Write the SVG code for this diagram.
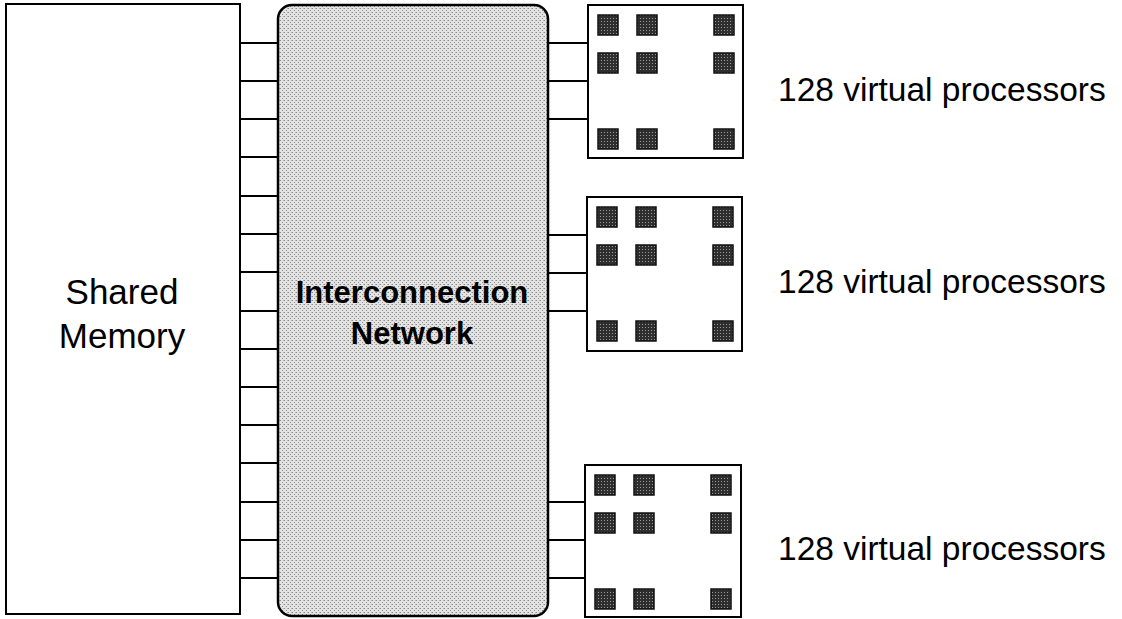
<svg xmlns="http://www.w3.org/2000/svg" width="1122" height="619" viewBox="0 0 1122 619">
<style>
.box{fill:#fff;stroke:#000;stroke-width:2}
.net{fill:url(#stipple);stroke:#000;stroke-width:2.5}
.link{stroke:#000;stroke-width:2;fill:none}
.chip{fill:url(#chipfill);stroke:#111;stroke-width:1.5}
.lbl{font-family:"Liberation Sans",Arial,sans-serif;fill:#000}
.bold{font-weight:bold}
</style>
<defs>
<pattern id="stipple" width="4" height="4" patternUnits="userSpaceOnUse">
<rect width="4" height="4" fill="#e4e4e4"/>
<rect x="0" y="0" width="1" height="1" fill="#8a8a8a"/>
<rect x="2" y="2" width="1" height="1" fill="#8a8a8a"/>
<rect x="3" y="0" width="1" height="1" fill="#b4b4b4"/>
</pattern>
<pattern id="chipfill" width="3" height="3" patternUnits="userSpaceOnUse">
<rect width="3" height="3" fill="#2e2e2e"/>
<rect x="1" y="1" width="1" height="1" fill="#9a9a9a"/>
</pattern>
<g id="chips">
<rect class="chip" x="10" y="10" width="20" height="20"/>
<rect class="chip" x="49" y="10" width="20" height="20"/>
<rect class="chip" x="126" y="10" width="20" height="20"/>
<rect class="chip" x="10" y="48" width="20" height="20"/>
<rect class="chip" x="49" y="48" width="20" height="20"/>
<rect class="chip" x="126" y="48" width="20" height="20"/>
<rect class="chip" x="10" y="124" width="20" height="20"/>
<rect class="chip" x="49" y="124" width="20" height="20"/>
<rect class="chip" x="126" y="124" width="20" height="20"/>
</g>
</defs>

<g id="connectors">
<path class="link" d="M240 43H278M240 81H278M240 119H278M240 157H278M240 196H278M240 234H278M240 272H278M240 311H278M240 349H278M240 387H278M240 425H278M240 463H278M240 502H278M240 540H278M240 578H278"/>
<path class="link" d="M548 43H588M548 81H588M548 119H588"/>
<path class="link" d="M548 235H587M548 273H587M548 311H587"/>
<path class="link" d="M548 502H585M548 540H585M548 578H585"/>
</g>

<g id="shared-memory">
<rect class="box" x="6" y="4" width="234" height="610"/>
<text class="lbl" x="122" y="304" font-size="35" text-anchor="middle">Shared</text>
<text class="lbl" x="122" y="348" font-size="35" text-anchor="middle">Memory</text>
</g>

<g id="interconnection-network">
<rect class="net" x="278" y="5" width="270" height="611" rx="14" ry="14"/>
<text class="lbl bold" x="412" y="303" font-size="31" text-anchor="middle">Interconnection</text>
<text class="lbl bold" x="412" y="344" font-size="31" text-anchor="middle">Network</text>
</g>

<g id="processors-1">
<rect class="box" x="588" y="5" width="155" height="153"/>
<use href="#chips" x="588" y="5"/>
<text class="lbl" x="778" y="101" font-size="33.5">128 virtual processors</text>
</g>

<g id="processors-2">
<rect class="box" x="587" y="197" width="155" height="154"/>
<use href="#chips" x="587" y="197"/>
<text class="lbl" x="778" y="293" font-size="33.5">128 virtual processors</text>
</g>

<g id="processors-3">
<rect class="box" x="585" y="465" width="156" height="152"/>
<use href="#chips" x="585" y="465"/>
<text class="lbl" x="778" y="560" font-size="33.5">128 virtual processors</text>
</g>
</svg>
